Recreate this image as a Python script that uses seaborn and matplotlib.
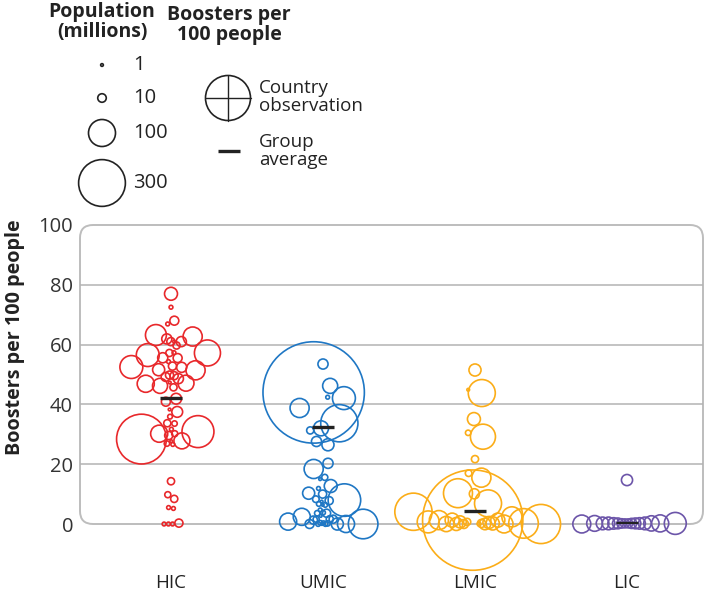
import numpy as np
import pandas as pd
import matplotlib
matplotlib.use("Agg")
import matplotlib.pyplot as plt
import seaborn as sns
from matplotlib.patches import FancyBboxPatch

# ---------------- data ----------------
groups = ["HIC", "UMIC", "LMIC", "LIC"]
colors = ["#e8282b", "#1f77c4", "#fbad18", "#6c55a9"]

hic_boosters = [77.0, 72.5, 68.0, 66.9, 62.7, 63.2, 61.0, 61.0, 59.7, 61.9, 61.0, 57.2,
                56.5, 57.3, 55.6, 55.5, 57.2, 54.3, 52.5, 52.4, 49.8, 51.6, 52.8, 51.4,
                49.2, 48.6, 46.9, 49.6, 47.1, 47.3, 45.7, 46.2, 40.9, 41.9, 37.5, 38.3,
                35.9, 33.6, 33.7, 30.9, 28.4, 30.2, 31.7, 29.6, 27.7, 30.2, 26.9, 26.6,
                27.8, 14.3, 9.8, 8.4, 5.5, 5.2, 0.3, 0.0, 0.0, 0.0]
hic_pop = [23, 2, 11, 2, 50, 60, 9, 14, 7, 14, 1, 93,
           72, 2, 14, 11, 7, 2, 72, 14, 9, 20, 9, 50,
           11, 14, 40, 9, 35, 1, 7, 31, 11, 16, 16, 1,
           3, 4, 7, 140, 340, 40, 2, 9, 1, 5, 4, 2,
           35, 7, 5, 7, 2, 2, 9, 2, 2, 2]

umic_boosters = [44.0, 53.5, 46.2, 42.1, 42.4, 38.8, 33.7, 32.0, 31.3, 27.6, 26.5, 20.3,
                 18.4, 15.6, 15.0, 12.7, 10.3, 10.0, 11.9, 8.0, 7.8, 6.7, 8.3, 7.5,
                 6.4, 6.4, 4.7, 2.4, 2.7, 3.8, 1.6, 3.6, 3.6, 1.3, 1.6, 0.4,
                 0.0, 0.0, 0.2, 0.0, 0.8, 1.6, 0.0, 0.0, 0.4, 0.0, 0.0]
umic_pop = [1410, 14, 31, 72, 2, 50, 190, 31, 7, 14, 20, 14,
            50, 5, 1, 23, 20, 9, 2, 145, 9, 3, 6, 1,
            1, 3, 2, 40, 1, 3, 7, 4, 9, 9, 9, 2,
            120, 40, 4, 20, 40, 5, 1, 11, 3, 3, 3]

lmic_boosters = [51.5, 43.8, 44.9, 35.1, 29.2, 30.5, 21.7, 17.0, 15.5, 10.3, 10.1, 6.9,
                 4.1, 1.3, 2.4, 0.2, 1.3, 1.3, 1.3, 0.0, 0.0, 0.0, 0.7, 0.7,
                 0.7, 0.0, 0.0, 0.2, 0.2, 0.0, 0.0, 0.5]
lmic_pop = [20, 100, 1, 23, 86, 4, 7, 6, 50, 115, 14, 100,
            190, 1380, 55, 120, 50, 27, 27, 210, 2, 23, 66, 20,
            7, 44, 18, 24, 9, 11, 32, 20]

lic_boosters = [14.7, 0.2, 0.2, 0.2, 0.2, 0.2, 0.2, 0.2, 0.2, 0.2, 0.2, 0.0,
                0.2, 0.2, 0.2, 0.2, 0.2]
lic_pop = [17, 40, 18, 22, 18, 16, 11, 66, 22, 34, 12, 44,
           22, 16, 11, 32, 14]

group_avg = [42.1, 32.6, 4.4, 0.2]
legend_pops = [1, 10, 100, 300]
legend_labels = ["1", "10", "100", "300"]
y_ticks = [0, 20, 40, 60, 80, 100]

# ---------------- layout constants ----------------
W, H = 705, 602
AX_L, AX_R, AX_B, AX_T = 80, 703, 524, 225
CENTER0 = 171.0
PX_X = 152.0                      # pixels per category step
PX_Y = (AX_B - AX_T) / 100.0      # pixels per booster unit
K_R = 1.35                        # radius px per sqrt(million)
S_PER_MILLION = (2 * K_R * 0.72) ** 2   # scatter area (pt^2) per million
RC_CAP = 12.0
KX = 0.12
ETA = 0.05
N_ITER = 3000


def swarm(values, pops):
    """Beeswarm layout: greedy placement then a relaxation with a pull to centre."""
    vals = np.asarray(values, float)
    pops = np.asarray(pops, float)
    n = len(vals)
    r = K_R * np.sqrt(pops)
    rc = np.minimum(r, RC_CAP) + 0.7
    ypx = vals * PX_Y
    giants = pops > 1000
    order = list(np.where(giants)[0]) + [i for i in np.argsort(pops, kind="stable")
                                          if not giants[i]]
    xs = np.zeros(n)
    cands = [0.0]
    for k in range(1, 800):
        cands += [k * 0.5, -k * 0.5]
    placed = []
    for i in order:
        for c in cands:
            ok = True
            for j in placed:
                if (c - xs[j]) ** 2 + (ypx[i] - ypx[j]) ** 2 < (rc[i] + rc[j]) ** 2:
                    ok = False
                    break
            if ok:
                xs[i] = c
                break
        placed.append(i)
    # relaxation
    need = rc[:, None] + rc[None, :]
    dy = np.abs(ypx[:, None] - ypx[None, :])
    sep = np.sqrt(np.clip(need ** 2 - dy ** 2, 0, None))
    np.fill_diagonal(sep, 0)
    idx = np.arange(n)
    tie = np.sign(idx[:, None] - idx[None, :]).astype(float)
    x = xs.copy()
    for _ in range(N_ITER):
        dx = x[:, None] - x[None, :]
        sgn = np.where(dx == 0, tie, np.sign(dx))
        ov = np.clip(sep - np.abs(dx), 0, None)
        f = (ov * sgn).sum(axis=1) - KX * x
        x += ETA * f
    return x / PX_X


all_b = [hic_boosters, umic_boosters, lmic_boosters, lic_boosters]
all_p = [hic_pop, umic_pop, lmic_pop, lic_pop]
frames = []
for gi, (g, b, p) in enumerate(zip(groups, all_b, all_p)):
    off = swarm(b, p)
    frames.append(pd.DataFrame({"group": g, "boosters": b, "pop": p,
                                "x": gi + off}))
df = pd.concat(frames, ignore_index=True)

# ---------------- figure ----------------
sns.set_theme(style="white")
plt.rcParams["font.family"] = ["Open Sans", "DejaVu Sans"]

fig = plt.figure(figsize=(W / 100, H / 100), dpi=100)
over = fig.add_axes([0, 0, 1, 1], zorder=0)
over.set_xlim(0, W)
over.set_ylim(H, 0)
over.axis("off")

ax = fig.add_axes([AX_L / W, 1 - AX_B / H, (AX_R - AX_L) / W, (AX_B - AX_T) / H],
                  zorder=1)
ax.patch.set_visible(False)

# rounded frame
frame = FancyBboxPatch((AX_L, AX_T), AX_R - AX_L, AX_B - AX_T,
                       boxstyle="round,pad=0,rounding_size=13",
                       fc="none", ec="#bdbdbd", lw=1.4)
over.add_patch(frame)

# gridlines
for yv in y_ticks[1:-1]:
    ax.axhline(yv, color="#b3b3b3", lw=1.1, zorder=0)

maxpop = 1500
for g, col in zip(groups, colors):
    sub = df[df["group"] == g]
    sns.scatterplot(data=sub, x="x", y="boosters", size="pop",
                    sizes=(0, maxpop * S_PER_MILLION), size_norm=(0, maxpop),
                    color=col, legend=False, ax=ax, clip_on=False,
                    linewidth=1.2, zorder=3)
    coll = ax.collections[-1]
    coll.set_facecolor("none")
    coll.set_edgecolor(col)

# group averages
hw = 11 / PX_X
for gi, avg in enumerate(group_avg):
    ax.plot([gi - hw, gi + hw], [avg, avg], color="#222222", lw=2.4,
            solid_capstyle="butt", zorder=5)

ax.set_xlim((AX_L - CENTER0) / PX_X, (AX_R - CENTER0) / PX_X)
ax.set_ylim(0, 100)
for s in ax.spines.values():
    s.set_visible(False)
ax.set_xticks(range(len(groups)))
ax.set_xticklabels(groups)
ax.set_yticks(y_ticks)
ax.set_xlabel("")
ax.set_ylabel("")
ax.tick_params(axis="x", direction="in", length=6, width=1.2, color="#b3b3b3",
               pad=36, labelsize=13.5, labelcolor="#222222")
ax.tick_params(axis="y", length=0, pad=5, labelsize=14.5, labelcolor="#333333")

fig.text(15 / W, 1 - 337 / H, "Boosters per 100 people", rotation=90,
         ha="center", va="center", fontsize=14.2, fontweight="bold", color="#222222")

# ---------------- legend ----------------
over.text(102, 22, "Population\n(millions)", ha="center", va="center",
          fontsize=14, fontweight="bold", color="#222222", linespacing=0.95)
over.text(229, 25, "Boosters per\n100 people", ha="center", va="center",
          fontsize=14, fontweight="bold", color="#222222", linespacing=0.95)

leg_y = [65, 98, 133, 183]
over.scatter([102] * len(legend_pops), leg_y,
             s=np.array(legend_pops) * S_PER_MILLION,
             facecolor="none", edgecolor="#222222", lw=1.2, zorder=3)
for yy, lab in zip(leg_y, legend_labels):
    over.text(133, yy, lab, ha="left", va="center", fontsize=14.5, color="#222222")

# country observation symbol
over.scatter([228], [98], s=(45 * 0.72) ** 2, facecolor="none",
             edgecolor="#222222", lw=1.2)
over.plot([205.5, 250.5], [98, 98], color="#222222", lw=1.0)
over.plot([228, 228], [75.5, 120.5], color="#222222", lw=1.0)
over.text(259, 97, "Country\nobservation", ha="left", va="center",
          fontsize=13.5, color="#222222", linespacing=0.95)

# group average symbol
over.plot([218, 240], [151, 151], color="#222222", lw=2.4, solid_capstyle="butt")
over.text(259, 151, "Group\naverage", ha="left", va="center",
          fontsize=13.5, color="#222222", linespacing=0.95)

fig.savefig("out.png", dpi=100)
